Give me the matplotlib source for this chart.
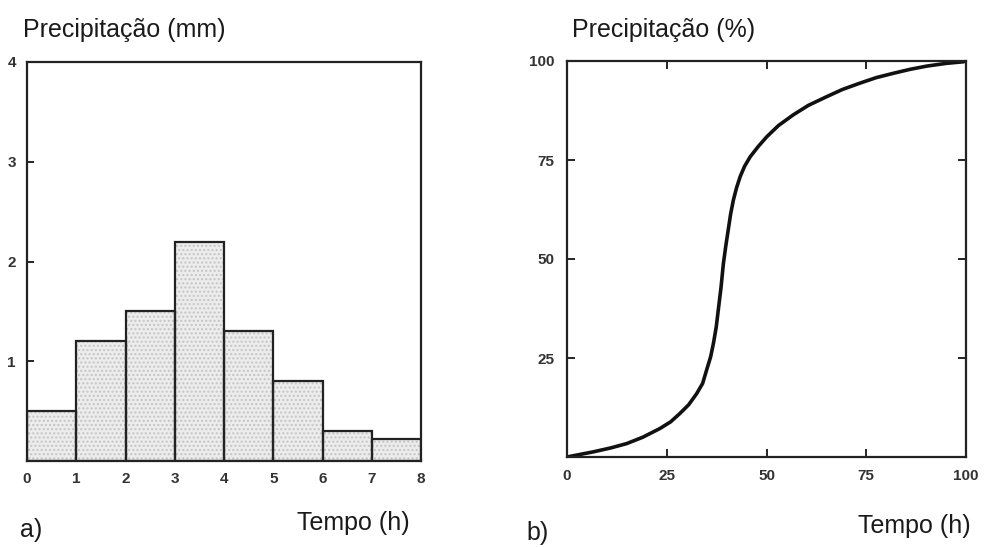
"""
Hietograma (a) e curva de precipitação acumulada (b).
Saída: out.png
"""

import matplotlib
matplotlib.use('Agg')
import matplotlib.pyplot as plt

# a) precipitação por intervalo de 1 h (mm)
horas_inicio = [0, 1, 2, 3, 4, 5, 6, 7]
precip_mm = [0.5, 1.2, 1.5, 2.2, 1.3, 0.8, 0.3, 0.22]

# b) precipitação acumulada (%)
tempo_pct = [0, 3, 6.6, 11, 15, 19, 23.3, 26, 28.3, 30.5, 32.5, 34, 35, 36, 36.7,
             37.4, 37.9, 38.6, 39.2, 39.8, 40.4, 41, 41.7, 42.5, 43.4, 44.5, 45.9,
             48, 50.1, 53, 56.7, 60.5, 65.1, 69, 73.4, 77.5, 81.8, 86, 90.1, 95, 99.3, 100]
precip_pct = [0, 0.6, 1.3, 2.3, 3.4, 5.0, 7.2, 8.9, 11, 13.2, 16, 18.6, 22, 25.3, 28.7,
              32.8, 37, 42.8, 48.9, 53.3, 57.3, 61.3, 64.9, 68.0, 70.8, 73.4, 75.8,
              78.5, 80.9, 83.7, 86.4, 88.8, 91, 92.8, 94.4, 95.8, 96.9, 97.9, 98.7, 99.4, 99.8, 100]

plt.rcParams['font.family'] = ['Liberation Sans', 'DejaVu Sans']
COR_TXT = '#1a1a1a'

fig = plt.figure(figsize=(9.85, 5.47), dpi=100)
ax1 = fig.add_axes([27 / 985, 1 - 461 / 547, 394 / 985, 399 / 547])
ax2 = fig.add_axes([567 / 985, 1 - 457 / 547, 399 / 985, 396 / 547])

# --- a) hietograma
ax1.bar(horas_inicio, precip_mm, width=1, align='edge', color='#ececec',
        hatch='....', edgecolor='#c4c4c4', lw=0)
ax1.bar(horas_inicio, precip_mm, width=1, align='edge', color='none',
        edgecolor='#222222', lw=1.6)
ax1.set_xlim(0, 8)
ax1.set_ylim(0, 4)
ax1.set_xticks(range(0, 9))
ax1.set_yticks([1, 2, 3, 4])
ax1.tick_params(axis='x', length=0, pad=8)
ax1.tick_params(axis='y', direction='in', length=5, width=1.2, pad=8)

# --- b) curva acumulada
ax2.plot(tempo_pct, precip_pct, color='#111111', lw=2.6, solid_capstyle='round',
         solid_joinstyle='round')
ax2.set_xlim(0, 100)
ax2.set_ylim(0, 100)
ax2.set_xticks([0, 25, 50, 75, 100])
ax2.set_yticks([25, 50, 75, 100])
ax2.tick_params(direction='in', length=6, width=1.2, top=True, right=True, pad=9)

for ax in (ax1, ax2):
    for sp in ax.spines.values():
        sp.set_linewidth(1.6)
        sp.set_color('#222222')
    for lbl in ax.get_xticklabels() + ax.get_yticklabels():
        lbl.set_fontweight('bold')
        lbl.set_fontsize(11)
        lbl.set_color('#333333')

fig.text(23 / 985, 1 - 30 / 547, 'Precipitação (mm)', fontsize=18, color=COR_TXT, va='center')
fig.text(572 / 985, 1 - 30 / 547, 'Precipitação (%)', fontsize=18, color=COR_TXT, va='center')
fig.text(297 / 985, 1 - 523 / 547, 'Tempo (h)', fontsize=18, color=COR_TXT, va='center')
fig.text(858 / 985, 1 - 526 / 547, 'Tempo (h)', fontsize=18, color=COR_TXT, va='center')
fig.text(20 / 985, 1 - 530 / 547, 'a)', fontsize=18, color=COR_TXT, va='center')
fig.text(526 / 985, 1 - 533 / 547, 'b)', fontsize=18, color=COR_TXT, va='center')

plt.savefig('out.png', dpi=100, facecolor='white')
plt.close()
